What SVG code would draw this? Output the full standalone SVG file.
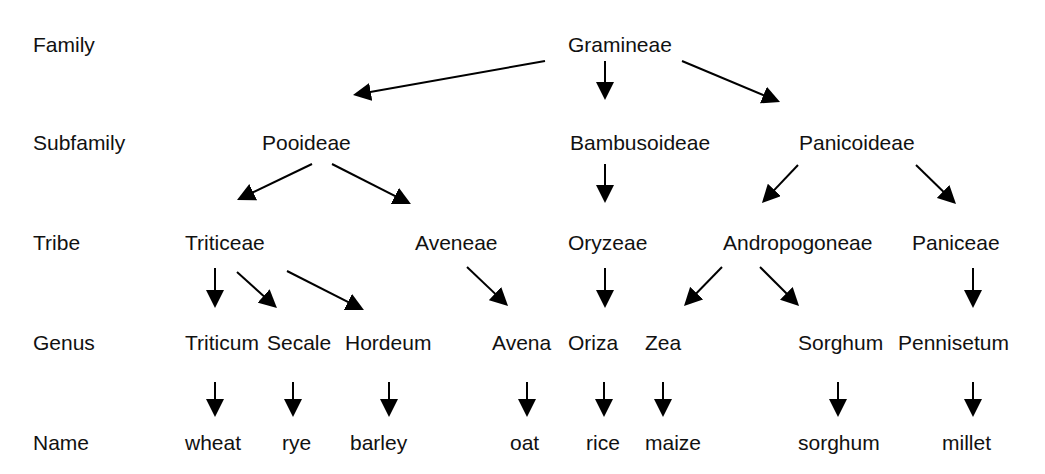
<svg xmlns="http://www.w3.org/2000/svg" width="1045" height="474" viewBox="0 0 1045 474">
<defs>
<marker id="ah" viewBox="0 0 18 18" refX="12" refY="9" markerWidth="18" markerHeight="18" markerUnits="userSpaceOnUse" orient="auto">
<path d="M0,0 L18,9 L0,18 z" fill="#000"/>
</marker>
<style>
text{font-family:"Liberation Sans",Arial,sans-serif;font-size:21px;fill:#111}
.c line{stroke:#000;stroke-width:2;marker-end:url(#ah)}
</style>
</defs>
<rect width="1045" height="474" fill="#fff"/>
<g id="levels">
<text x="33" y="52">Family</text>
<text x="33" y="150">Subfamily</text>
<text x="33" y="250">Tribe</text>
<text x="33" y="350">Genus</text>
<text x="33" y="450">Name</text>
</g>
<g id="gramineae"><text x="568" y="52">Gramineae</text></g>
<g id="pooideae"><text x="262" y="150">Pooideae</text></g>
<g id="bambusoideae"><text x="570" y="150">Bambusoideae</text></g>
<g id="panicoideae"><text x="799" y="150">Panicoideae</text></g>
<g id="triticeae"><text x="185" y="250">Triticeae</text></g>
<g id="aveneae"><text x="415" y="250">Aveneae</text></g>
<g id="oryzeae"><text x="568" y="250">Oryzeae</text></g>
<g id="andropogoneae"><text x="723" y="250">Andropogoneae</text></g>
<g id="paniceae"><text x="912" y="250">Paniceae</text></g>
<g id="triticum"><text x="185" y="350">Triticum</text></g>
<g id="secale"><text x="267" y="350">Secale</text></g>
<g id="hordeum"><text x="345" y="350">Hordeum</text></g>
<g id="avena"><text x="492" y="350">Avena</text></g>
<g id="oriza"><text x="568" y="350">Oriza</text></g>
<g id="zea"><text x="645" y="350">Zea</text></g>
<g id="sorghum-genus"><text x="798" y="350">Sorghum</text></g>
<g id="pennisetum"><text x="898" y="350">Pennisetum</text></g>
<g id="wheat"><text x="185" y="450">wheat</text></g>
<g id="rye"><text x="282" y="450">rye</text></g>
<g id="barley"><text x="350" y="450">barley</text></g>
<g id="oat"><text x="510" y="450">oat</text></g>
<g id="rice"><text x="586" y="450">rice</text></g>
<g id="maize"><text x="645" y="450">maize</text></g>
<g id="sorghum-name"><text x="798" y="450">sorghum</text></g>
<g id="millet"><text x="942" y="450">millet</text></g>
<g id="connectors" class="c">
<line x1="545" y1="61" x2="358.9" y2="94"/>
<line x1="605" y1="61" x2="605" y2="94"/>
<line x1="682" y1="61" x2="774.5" y2="99.7"/>
<line x1="312" y1="164" x2="242.4" y2="197.4"/>
<line x1="332" y1="164" x2="405.6" y2="201.3"/>
<line x1="605" y1="164" x2="605" y2="197"/>
<line x1="798" y1="165" x2="766.1" y2="198.6"/>
<line x1="916" y1="165" x2="951.7" y2="199.8"/>
<line x1="215" y1="268" x2="215" y2="302"/>
<line x1="237" y1="272" x2="272.5" y2="304"/>
<line x1="287" y1="271" x2="358.6" y2="307.3"/>
<line x1="467" y1="267" x2="503.7" y2="301.9"/>
<line x1="605" y1="268" x2="605" y2="302"/>
<line x1="722" y1="267" x2="688.2" y2="301.7"/>
<line x1="760" y1="267" x2="794.8" y2="301.8"/>
<line x1="973" y1="268" x2="973" y2="302"/>
<line x1="215" y1="382" x2="215" y2="411"/>
<line x1="293" y1="382" x2="293" y2="411"/>
<line x1="389" y1="382" x2="389" y2="411"/>
<line x1="527" y1="382" x2="527" y2="411"/>
<line x1="604" y1="382" x2="604" y2="411"/>
<line x1="663" y1="382" x2="663" y2="411"/>
<line x1="838" y1="382" x2="838" y2="411"/>
<line x1="973" y1="382" x2="973" y2="411"/>
</g>
</svg>
